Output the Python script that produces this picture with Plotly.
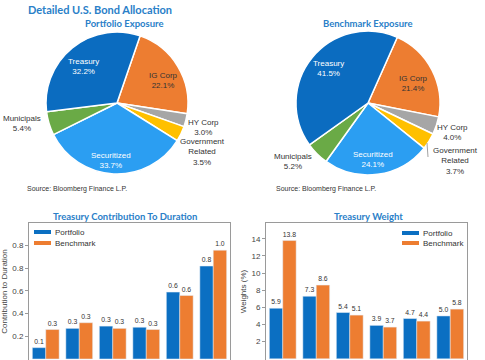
import plotly.graph_objects as go

# ---------------- data ----------------
sectors = ["IG Corp", "HY Corp", "Government Related", "Securitized", "Municipals", "Treasury"]
portfolio_alloc = [22.1, 3.0, 3.5, 33.7, 5.4, 32.2]
benchmark_alloc = [21.4, 4.0, 3.7, 24.1, 5.2, 41.5]

buckets = ["0-1 Yr", "1-3 Yr", "3-5 Yr", "5-7 Yr", "7-10 Yr", "10+ Yr"]
dur_portfolio = [0.10, 0.27, 0.29, 0.28, 0.59, 0.82]
dur_benchmark = [0.26, 0.32, 0.27, 0.26, 0.56, 0.96]
dur_ticks = [0.2, 0.4, 0.6, 0.8, 1.0]
dur_ticktext = ["0.2", "0.4", "0.6", "0.8", "0.8"]

wt_portfolio = [5.9, 7.3, 5.4, 3.9, 4.7, 5.0]
wt_benchmark = [13.8, 8.6, 5.1, 3.7, 4.4, 5.8]
wt_ticks = [2, 4, 6, 8, 10, 12, 14]

series_names = ["Portfolio", "Benchmark"]

# ---------------- styles ----------------
W, H = 485, 360
def px(x):
    return x / W
def py(y):
    return 1 - y / H

FONT = "Liberation Sans, Arial, sans-serif"
TFONT = "Lato, Liberation Sans, Arial, sans-serif"
TITLE_BLUE = "#2a80c8"
C_PORT = "#0b6fc2"
C_BENCH = "#ed7d31"
sector_colors = {
    "Treasury": "#0b6cc0",
    "IG Corp": "#ed7d31",
    "HY Corp": "#a6a6a6",
    "Government Related": "#ffc000",
    "Securitized": "#2b9ef2",
    "Municipals": "#6aaa46",
}

fig = go.Figure()

def pie_domain(cx, cy, r):
    return dict(x=[px(cx - r), px(cx + r)], y=[py(cy + r), py(cy - r)])

fig.add_trace(go.Pie(
    labels=sectors, values=portfolio_alloc, sort=False, direction="clockwise",
    rotation=19, textinfo="none", hoverinfo="label+percent",
    marker=dict(colors=[sector_colors[s] for s in sectors], line=dict(color="white", width=1.5)),
    domain=pie_domain(117, 103, 71), showlegend=False, name="Portfolio Exposure"))
fig.add_trace(go.Pie(
    labels=sectors, values=benchmark_alloc, sort=False, direction="clockwise",
    rotation=24, textinfo="none", hoverinfo="label+percent",
    marker=dict(colors=[sector_colors[s] for s in sectors], line=dict(color="white", width=1.5)),
    domain=pie_domain(368, 103, 72), showlegend=False, name="Benchmark Exposure"))

bar_text = dict(size=7, color="#333333", family=FONT)
for (vals, nm, col, xa, ya) in [
        (dur_portfolio, series_names[0], C_PORT, "x", "y"),
        (dur_benchmark, series_names[1], C_BENCH, "x", "y"),
        (wt_portfolio, series_names[0], C_PORT, "x2", "y2"),
        (wt_benchmark, series_names[1], C_BENCH, "x2", "y2")]:
    fig.add_trace(go.Bar(x=buckets, y=vals, name=nm, marker_color=col,
                         texttemplate="%{y:.1f}", textposition="outside", textfont=bar_text,
                         cliponaxis=False, xaxis=xa, yaxis=ya, showlegend=False))

axis_line = dict(showline=True, linecolor="#9a9a9a", linewidth=1, mirror=True, showgrid=False, zeroline=False)
tickfont = dict(size=8, color="#444444", family=FONT)

fig.update_layout(
    width=W, height=H, autosize=False,
    margin=dict(l=0, r=0, t=0, b=0),
    paper_bgcolor="white", plot_bgcolor="white",
    barmode="group", bargap=0.2, bargroupgap=0,
    font=dict(family=FONT, size=8, color="#333333"),
    uniformtext=dict(minsize=6, mode="show"),
    xaxis=dict(domain=[px(29), px(230)], anchor="y", showticklabels=False, ticks="", **axis_line),
    yaxis=dict(domain=[0, py(223)], anchor="x", range=[-0.009, 1.2], tickvals=dur_ticks,
               ticktext=dur_ticktext, ticks="outside", ticklen=3, tickcolor="#9a9a9a",
               tickfont=tickfont,
               title=dict(text="Contribution to Duration", font=dict(size=8, color="#444444"), standoff=3),
               **axis_line),
    xaxis2=dict(domain=[px(266), px(467)], anchor="y2", showticklabels=False, ticks="", **axis_line),
    yaxis2=dict(domain=[0, py(223)], anchor="x2", range=[-0.14, 15.85], tickvals=wt_ticks,
                ticks="outside", ticklen=3, tickcolor="#9a9a9a", tickfont=tickfont,
                title=dict(text="Weights (%)", font=dict(size=8, color="#444444"), standoff=3),
                **axis_line),
)

def lab(name, val):
    return name.replace("Government Related", "Government<br>Related") + "<br>" + f"{val:.1f}%"

port_pos = {"Treasury": (83, 66, "white"), "IG Corp": (163, 80, "#333333"),
            "HY Corp": (203, 127, "#333333"), "Government Related": (202, 152, "#333333"),
            "Securitized": (111, 160, "white"), "Municipals": (22, 123, "#333333")}
bench_pos = {"Treasury": (328, 68, "white"), "IG Corp": (413, 83, "#333333"),
             "HY Corp": (452, 132, "#333333"), "Government Related": (455, 161, "#333333"),
             "Securitized": (373, 159, "white"), "Municipals": (293, 161, "#333333")}

annots = []
for alloc, pos in ((portfolio_alloc, port_pos), (benchmark_alloc, bench_pos)):
    for s, v in zip(sectors, alloc):
        x, y, c = pos[s]
        annots.append(dict(x=px(x), y=py(y), xref="paper", yref="paper", text=lab(s, v),
                           showarrow=False, font=dict(size=8, color=c, family=FONT),
                           xanchor="center", yanchor="middle", align="center"))

def title(text, x, y, size):
    return dict(x=px(x), y=py(y), xref="paper", yref="paper", text=f"<b>{text}</b>",
                showarrow=False, font=dict(size=size, color=TITLE_BLUE, family=TFONT),
                xanchor="center", yanchor="middle")

annots += [
    title("Detailed U.S. Bond Allocation", 100, 9, 11),
    title("Portfolio Exposure", 125, 23, 9.5),
    title("Benchmark Exposure", 368, 23, 9.5),
    title("Treasury Contribution To Duration", 125, 216, 9.5),
    title("Treasury Weight", 368, 216, 9.5),
]
for sx in (25, 274):
    annots.append(dict(x=px(sx), y=py(189), xref="paper", yref="paper",
                       text="Source: Bloomberg Finance L.P.", showarrow=False,
                       font=dict(size=7, color="#333333", family=FONT),
                       xanchor="left", yanchor="middle"))

# legends (swatch + label) for the two bar panels
shapes = []
for (sx, tx, ys) in [(34, 53, (232, 243)), (402, 421, (233, 243))]:
    for nm, col, yy in zip(series_names, (C_PORT, C_BENCH), ys):
        shapes.append(dict(type="rect", xref="paper", yref="paper",
                           x0=px(sx), x1=px(sx + 17), y0=py(yy + 2), y1=py(yy - 2),
                           fillcolor=col, line=dict(width=0)))
        annots.append(dict(x=px(tx), y=py(yy), xref="paper", yref="paper", text=nm,
                           showarrow=False, font=dict(size=8, color="#333333", family=FONT),
                           xanchor="left", yanchor="middle"))

shapes.append(dict(type="line", xref="paper", yref="paper", x0=px(427), y0=py(143),
                   x1=px(428), y1=py(157), line=dict(color="#8a8a8a", width=0.8)))

fig.update_layout(annotations=annots, shapes=shapes)

fig.write_html("out.html", config={"displayModeBar": False},
               post_script="document.body.style.margin='0';document.body.style.overflow='hidden';")
